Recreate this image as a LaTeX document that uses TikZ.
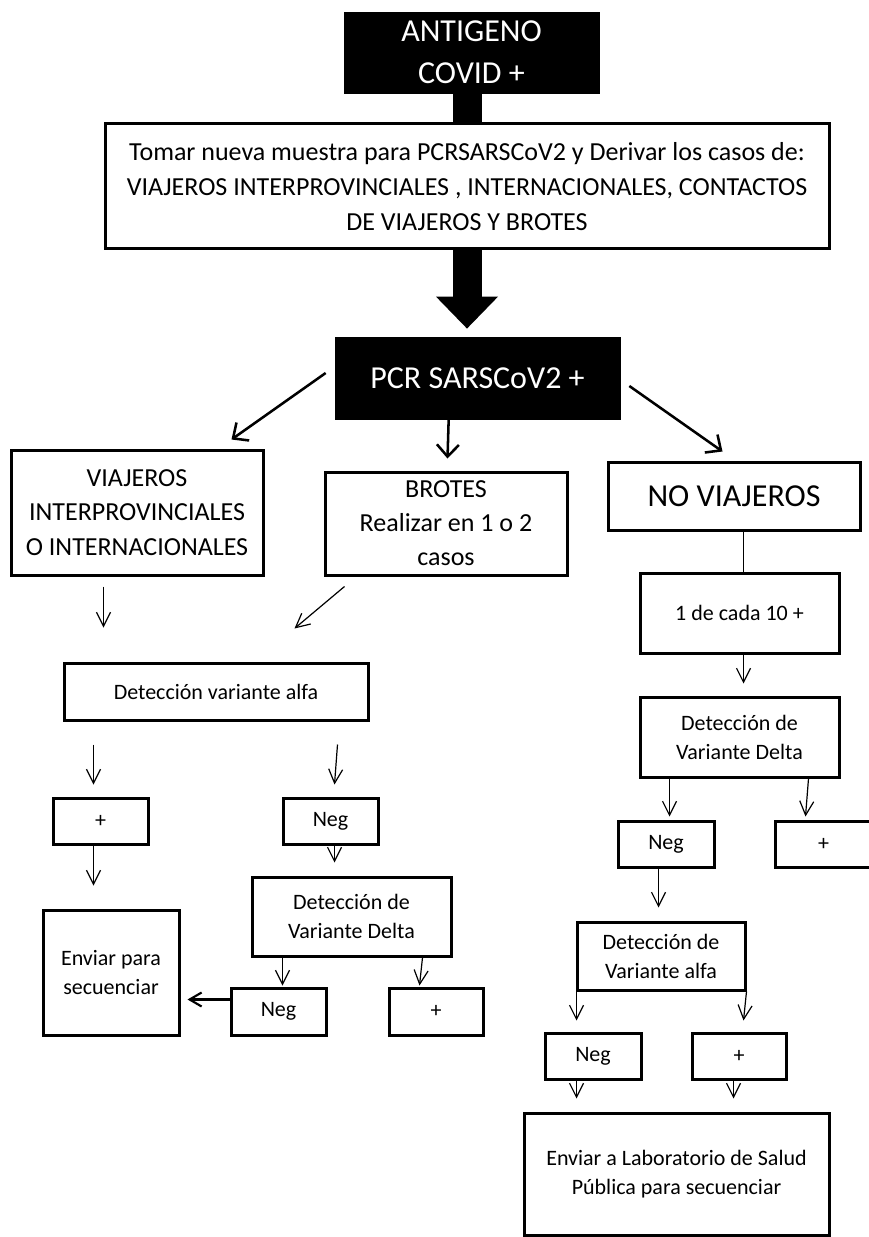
\documentclass[tikz,border=0pt]{standalone}
\usepackage{fontspec}
\setmainfont{Carlito}
\usetikzlibrary{arrows.meta,calc}
\newcommand\mkbox[7]{%
  \node[#1, minimum width={(#5-#3)*0.75pt}, minimum height={(#6-#4)*0.75pt}] (#2) at ({(#3+#5)/2},{(#4+#6)/2}) {#7};}
\tikzset{
  box/.style={draw=black, line width=2.25pt, inner sep=0pt, align=center, text=black},
  blk/.style={fill=black, draw=black, line width=0.5pt, inner sep=0pt, align=center, text=white},
  fbig/.style={font=\fontsize{24}{31.5}\selectfont},
  fmed/.style={font=\fontsize{19.5}{26}\selectfont},
  fmedb/.style={font=\fontsize{19.5}{25.5}\selectfont},
  fsm/.style={font=\fontsize{16.5}{21.75}\selectfont},
  arr/.style={line width=0.9pt, -{Straight Barb[length=10.5pt,width=10.5pt]}},
  arrM/.style={line width=1.6pt, -{Straight Barb[length=9pt,width=10.5pt]}},
  arrB/.style={line width=1.9pt, -{Straight Barb[length=9pt,width=16.5pt]}},
}
\begin{document}
\begin{tikzpicture}[x=0.75pt,y=-0.75pt]
\useasboundingbox (0,0) rectangle (868,1237);
% nodes
\mkbox{blk,fbig}{ant}{344}{12}{599}{93}{ANTIGENO\\COVID +}
\mkbox{box,fmed}{tomar}{105}{124}{829}{249}{Tomar nueva muestra para PCRSARSCoV2 y Derivar los casos de:\\VIAJEROS INTERPROVINCIALES , INTERNACIONALES, CONTACTOS\\DE VIAJEROS Y BROTES}
\mkbox{blk,fbig}{pcr}{335}{337}{620}{419}{PCR SARSCoV2 +}
\mkbox{box,fmed}{viaj}{11}{450}{263}{575}{VIAJEROS\\INTERPROVINCIALES\\O INTERNACIONALES}
\mkbox{box,fmedb}{brotes}{325}{472}{567}{575}{BROTES\\Realizar en 1 o 2\\casos}
\mkbox{box,fbig}{nov}{608}{462}{860}{530}{NO VIAJEROS}
\mkbox{box,fsm}{uno}{640}{573}{839}{653}{1 de cada 10 +}
\mkbox{box,fsm}{dR}{640}{697}{839}{777}{Detección de\\Variante Delta}
\mkbox{box,fsm}{negR}{618}{821}{714}{867}{Neg}
\mkbox{box,fsm}{plusR}{775}{821}{872}{867}{+}
\mkbox{box,fsm}{alfa}{64}{663}{368}{720}{Detección variante alfa}
\mkbox{box,fsm}{plusL}{53}{798}{148}{844}{+}
\mkbox{box,fsm}{negM}{283}{798}{378}{844}{Neg}
\mkbox{box,fsm}{envL}{43}{910}{179}{1035}{Enviar para\\secuenciar}
\mkbox{box,fsm}{dM}{252}{877}{451}{956}{Detección de\\Variante Delta}
\mkbox{box,fsm}{negB}{231}{988}{326}{1035}{Neg}
\mkbox{box,fsm}{plusB}{389}{988}{483}{1035}{+}
\mkbox{box,fsm}{aR}{577}{922}{745}{990}{Detección de\\Variante alfa}
\mkbox{box,fsm}{negRB}{545}{1033}{641}{1079}{Neg}
\mkbox{box,fsm}{plusRB}{692}{1033}{786}{1079}{+}
\mkbox{box,fsm}{lab}{524}{1113}{829}{1235}{Enviar a Laboratorio de Salud\\Pública para secuenciar}
% thick connectors
\draw[line width=21.75pt] (ant.south -| tomar.north) -- (tomar.north);
\draw[line width=21.75pt, -{Triangle[length=24pt,width=45pt]}, shorten >=6pt] (tomar.south) -- (tomar.south |- pcr.north);
% PCR arrows
\draw[arrB] ($(pcr.west)+(-9,-5)$) -- ($(viaj.north west)+(222,-9)$);
\draw[arrB] ($(pcr.south west)+(114,0)$) -- ($(brotes.north west)+(124,-12)$);
\draw[arrB] ($(pcr.east)+(9,8)$) -- ($(nov.north west)+(116,-9)$);
% left column
\draw[arr] ($(viaj.south west)+(94,10)$) -- ($(alfa.north west)+(41,-34)$);
\draw[arr] ($(brotes.south west)+(21,10)$) -- ($(alfa.north west)+(232,-33)$);
\draw[arr] ($(alfa.south west)+(31,23)$) -- ($(plusL.north west)+(42,-12)$);
\draw[arr] ($(alfa.south east)+(-32,23)$) -- ($(negM.north west)+(53,-12)$);
\draw[arr] ($(plusL.south west)+(42,0)$) -- ($(envL.north west)+(52,-23)$);
\draw[arr] ($(negM.south west)+(53,0)$) -- ($(dM.north west)+(84,-13)$);
\draw[arr] ($(dM.south west)+(32,0)$) -- ($(negB.north west)+(53,-1)$);
\draw[arr] ($(dM.south east)+(-30,0)$) -- ($(plusB.north west)+(32,-1)$);
\draw[arrM] ($(negB.north west)+(0,13)$) -- ($(envL.north east)+(7,91)$);
% right column
\draw[line width=0.9pt] ($(nov.south west)+(137,0)$) -- ($(uno.north west)+(105,0)$);
\draw[arr] ($(uno.south west)+(105,0)$) -- ($(dR.north west)+(105,-12)$);
\draw[arr] ($(dR.south west)+(31,0)$) -- ($(negR.north west)+(53,-3)$);
\draw[arr] ($(dR.south east)+(-32,0)$) -- ($(plusR.north west)+(32,-3)$);
\draw[arr] ($(negR.south west)+(42,0)$) -- ($(aR.north west)+(83,-13)$);
\draw[arr] ($(aR.south west)+(1,0)$) -- ($(negRB.north west)+(33,-11)$);
\draw[arr] (aR.south east) -- ($(plusRB.north west)+(53,-11)$);
\draw[arr] ($(negRB.south west)+(33,0)$) -- ($(lab.north west)+(54,-13)$);
\draw[arr] ($(plusRB.south west)+(43,0)$) -- ($(lab.north west)+(211,-13)$);
\end{tikzpicture}
\end{document}
